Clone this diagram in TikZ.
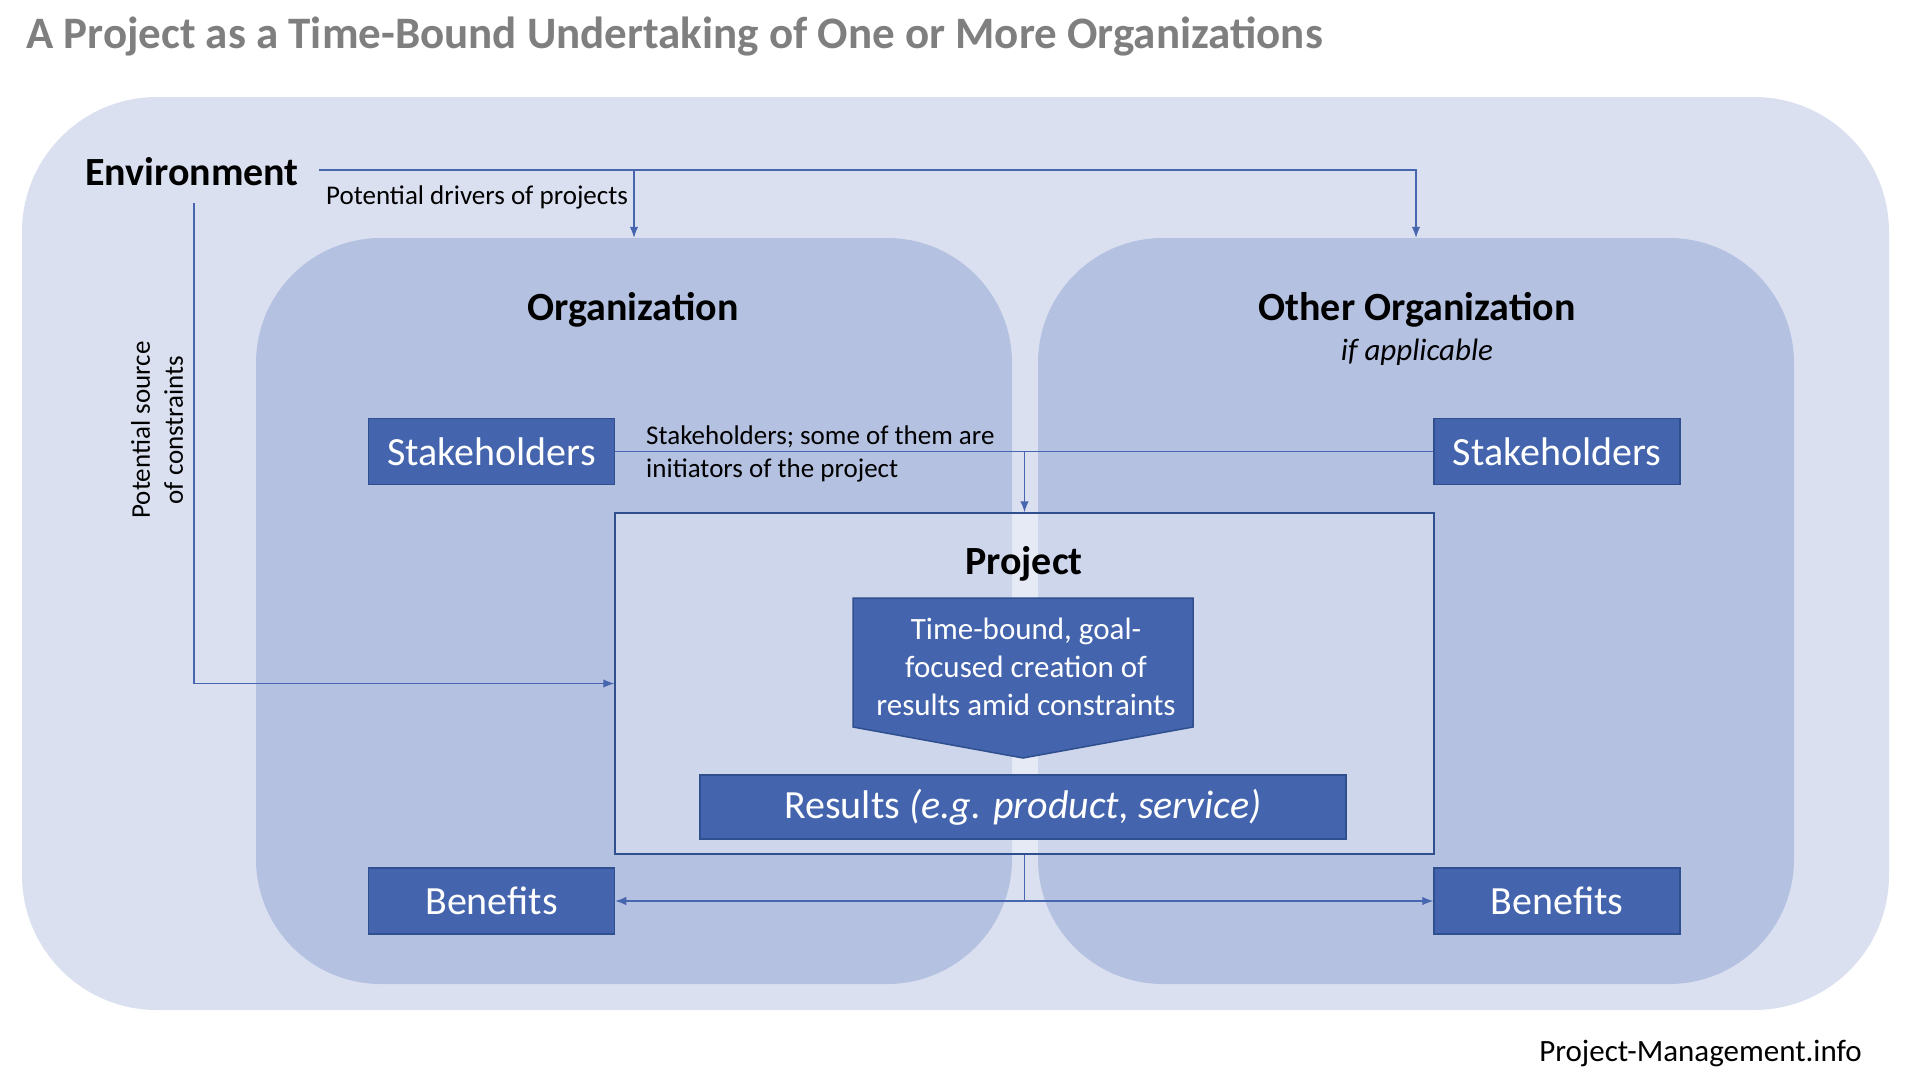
\documentclass[tikz,border=0pt]{standalone}
\usepackage{fontspec}
\setmainfont{Carlito}
\usetikzlibrary{arrows.meta}
\definecolor{envfill}{HTML}{DAE0F0}
\definecolor{orgfill}{HTML}{B4C1E1}
\definecolor{boxfill}{HTML}{4464AD}
\definecolor{boxline}{HTML}{2F4F8F}
\definecolor{linkcol}{HTML}{4666B0}
\definecolor{titlegray}{HTML}{7F7F7F}
\begin{document}
\begin{tikzpicture}[x=1pt,y=-1pt,
  bigbold/.style={font=\fontsize{40}{48}\selectfont\bfseries, inner sep=0},
  smalltext/.style={font=\fontsize{27}{33}\selectfont, inner sep=0},
  darkbox/.style={draw=boxline, line width=1.5pt, fill=boxfill, text=white,
    font=\fontsize{40}{48}\selectfont, minimum width=246, minimum height=66, inner sep=0},
  link/.style={draw=linkcol, line width=1.2pt},
  tip/.style={-{Latex[length=11pt,width=8.5pt]}},
  region/.style={fill=orgfill, rounded corners=125pt, minimum width=756, minimum height=746, inner sep=0}]
\useasboundingbox (0,0) rectangle (1910,1081);
\fill[white] (0,0) rectangle (1910,1081);
% regions
\node[fill=envfill, rounded corners=135pt, minimum width=1867, minimum height=913, inner sep=0] (envbox) at (955.5,553.5) {};
\node[region] (org1) at (634,611) {};
\node[region] (org2) at (1416,611) {};
\node[draw=boxline, line width=1.5pt, fill=white, fill opacity=0.35, minimum width=819, minimum height=341, inner sep=0] (project) at (1024.5,683.5) {};
% title and footer
\node[font=\fontsize{45}{54}\selectfont\bfseries, text=titlegray, anchor=west, inner sep=0] (title) at (26,36) {A Project as a Time-Bound Undertaking of One or More Organizations};
\node[font=\fontsize{31}{37}\selectfont, anchor=east, inner sep=0] (footer) at (1862,1053) {Project-Management.info};
% labels
\node[font=\fontsize{40}{48}\selectfont\bfseries, anchor=west, inner sep=0] (envlabel) at (85,172) {Environment};
\node[smalltext, anchor=west] (drivers) at (326,197) {Potential drivers of projects};
\node[smalltext, rotate=90, align=center] (constr) at (157,430) {Potential source\\of constraints};
\node[bigbold] (orglabel) at (633,310) {Organization};
\node[bigbold] (otherlabel) at (1417,310) {Other Organization};
\node[font=\fontsize{31}{37}\selectfont\itshape, inner sep=0] (ifapp) at (1417,352) {if applicable};
\node[smalltext, anchor=west, align=left] (stkdesc) at (646,454) {Stakeholders; some of them are\\initiators of the project};
\node[bigbold] (projlabel) at (1024,564) {Project};
% boxes
\node[darkbox] (stk1) at (491.5,451.5) {Stakeholders};
\node[darkbox] (stk2) at (1557,451.5) {Stakeholders};
\node[darkbox] (ben1) at (491.5,901) {Benefits};
\node[darkbox] (ben2) at (1557,901) {Benefits};
\filldraw[fill=boxfill, draw=boxline, line width=1.5pt] (853,598) -- (1193,598) -- (1193,727) -- (1023,758) -- (853,727) -- cycle;
\node[font=\fontsize{31}{38}\selectfont, text=white, align=center, inner sep=0] (core) at (1026,667) {Time-bound, goal-\\focused creation of\\results amid constraints};
\node[darkbox, minimum width=646, minimum height=64, font=\fontsize{40}{48}\selectfont] (results) at (1023,807) {Results \textit{(e.g. product, service)}};
% connectors
\coordinate (envout) at (319,170);
\coordinate (envdown) at (194,203);
\draw[link,tip] (envout) -| (org2.north);
\draw[link,tip] (envout -| org1.north) -- (org1.north);
\draw[link,tip] (envdown) |- (project.west);
\draw[link] (stk1.east) -- (stk2.west);
\draw[link,tip] (stk1.east -| project.north) -- (project.north);
\draw[link,tip] (project.south) |- (ben1.east);
\draw[link,tip] (project.south) |- (ben2.west);
\end{tikzpicture}
\end{document}
